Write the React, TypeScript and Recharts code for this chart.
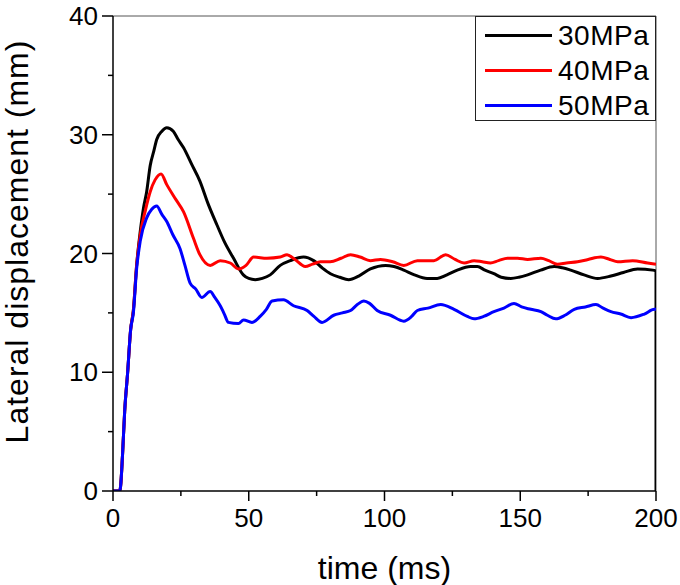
import React from 'react';
import { LineChart, Line, XAxis, YAxis, ReferenceLine } from 'recharts';

// time (ms) / lateral displacement (mm)
const t30 = [0, 2.5, 2.8, 3.5, 4.3, 5.4, 6.5, 7.5, 8.7, 10, 11.2, 12.4, 13.7, 15, 16.1, 18, 19.8, 22.2, 24, 26, 29, 32, 35, 38.3, 41, 44.4, 48, 50, 52.4, 55, 57.9, 61.6, 65.3, 70.2, 73.9, 77, 80.1, 83.5, 86.8, 90.5, 94.8, 100.4, 103.5, 107.1, 111, 115.7, 119.4, 123, 126.8, 131.7, 134.2, 137, 140.3, 143, 146.5, 149.5, 152.7, 157.5, 162.5, 165.5, 168.6, 173.5, 178.5, 183.4, 188, 193.2, 198.8, 200, 200];
const d30 = [0, 0, 0.4, 3, 6.7, 10, 13.6, 15.2, 19, 21.8, 23.8, 25.2, 27.4, 28.6, 29.6, 30.3, 30.6, 30.3, 29.6, 28.9, 27.5, 26.1, 24.2, 22.4, 21, 19.6, 18.2, 17.9, 17.8, 17.9, 18.2, 19.0, 19.4, 19.7, 19.4, 18.8, 18.3, 18.0, 17.8, 18.1, 18.7, 19.0, 18.9, 18.6, 18.2, 17.9, 17.9, 18.2, 18.6, 18.9, 18.9, 18.6, 18.3, 18.0, 17.9, 18.0, 18.2, 18.6, 18.9, 18.8, 18.6, 18.2, 17.9, 18.1, 18.4, 18.7, 18.6, 18.5, 0];

const t40 = [0, 2.5, 2.8, 3.5, 4.3, 5.4, 6.5, 7.5, 8.7, 10, 12, 13.7, 15.5, 17.7, 19.8, 23, 26, 29.6, 32, 35.8, 39.5, 43.2, 46.2, 49, 51.8, 56.7, 61.6, 64.1, 67, 70.8, 73.5, 76.4, 80, 84, 87.5, 91, 94.8, 98.5, 103, 107.1, 112.1, 118.2, 122.5, 126, 129.3, 133, 136, 139, 142, 145.3, 149, 152.7, 157.6, 160.5, 163.7, 167, 171.1, 175, 179.7, 183, 185.9, 191.4, 196.9, 200];
const d40 = [0, 0, 0.4, 3, 6.7, 10, 13.6, 15.2, 19, 21.5, 23.7, 25.2, 26.2, 26.7, 25.8, 24.6, 23.5, 21.3, 19.9, 19.0, 19.4, 19.2, 18.7, 19.0, 19.7, 19.6, 19.7, 19.9, 19.5, 18.9, 19.1, 19.3, 19.3, 19.6, 19.9, 19.7, 19.4, 19.5, 19.3, 19.0, 19.4, 19.4, 19.9, 19.5, 19.2, 19.4, 19.3, 19.2, 19.4, 19.6, 19.6, 19.5, 19.6, 19.4, 19.1, 19.2, 19.3, 19.5, 19.7, 19.5, 19.3, 19.4, 19.2, 19.1];

const t50 = [0, 2.5, 2.8, 3.5, 4.3, 5.4, 6.5, 7.5, 8.7, 10, 12.4, 14.2, 16.1, 18, 19.8, 22, 24.7, 26.5, 28.4, 30.5, 32.7, 35.8, 37.5, 39.5, 41, 42.5, 46.2, 48.1, 51.2, 54.2, 56.5, 58.6, 62.8, 66.5, 71.5, 74, 77, 81.3, 84.5, 87.5, 90, 92.4, 94.5, 97.3, 102.2, 107.1, 110, 112.1, 116, 120.7, 125.6, 130.5, 133, 136.5, 140.3, 144, 147.7, 150.5, 153.9, 157.6, 160, 163.1, 166.5, 169.9, 174, 177.9, 180.5, 183.4, 187, 190.8, 195.7, 199.4, 200];
const d50 = [0, 0, 0.4, 3, 6.7, 10, 13.6, 15.0, 18.7, 21.0, 23.0, 23.7, 24.0, 23.3, 22.7, 21.6, 20.4, 19.0, 17.5, 17.0, 16.3, 16.8, 16.3, 15.6, 14.9, 14.2, 14.1, 14.4, 14.2, 14.7, 15.3, 16.0, 16.1, 15.6, 15.2, 14.7, 14.2, 14.8, 15.0, 15.2, 15.7, 16.0, 15.8, 15.2, 14.8, 14.3, 14.7, 15.2, 15.4, 15.7, 15.3, 14.7, 14.5, 14.7, 15.1, 15.4, 15.8, 15.5, 15.3, 15.1, 14.8, 14.5, 14.8, 15.3, 15.5, 15.7, 15.4, 15.1, 14.9, 14.6, 14.9, 15.3, 15.3];

const xTicks = [0, 25, 50, 75, 100, 125, 150, 175, 200];
const yTicks = [0, 5, 10, 15, 20, 25, 30, 35, 40];

const series = [
  { name: '30MPa', color: '#000000', data: t30.map((t, i) => ({ t, v: d30[i] })) },
  { name: '40MPa', color: '#ff0000', data: t40.map((t, i) => ({ t, v: d40[i] })) },
  { name: '50MPa', color: '#0000ff', data: t50.map((t, i) => ({ t, v: d50[i] })) },
];

const FONT = '"Liberation Sans", Arial, sans-serif';

const XTick = ({ x, y, payload }: any) => {
  const major = payload.value % 50 === 0;
  return (
    <g>
      <line x1={x} y1={y} x2={x} y2={y + (major ? 10 : 5)} stroke="#000" strokeWidth={1.5} />
      {major && (
        <text x={x} y={y + 36} textAnchor="middle" fontSize={26} fontFamily={FONT} fill="#000">
          {payload.value}
        </text>
      )}
    </g>
  );
};

const YTick = ({ x, y, payload }: any) => {
  const major = payload.value % 10 === 0;
  return (
    <g>
      <line x1={x} y1={y} x2={x - (major ? 11 : 5)} y2={y} stroke="#000" strokeWidth={1.5} />
      {major && (
        <text x={x - 15} y={y + 9} textAnchor="end" fontSize={26} fontFamily={FONT} fill="#000">
          {payload.value}
        </text>
      )}
    </g>
  );
};

const YTitle = ({ viewBox }: any) => {
  const cy = viewBox.y + viewBox.height / 2 - 12;
  return (
    <text x={28} y={cy} transform={`rotate(-90 28 ${cy})`} textAnchor="middle"
      fontSize={32} letterSpacing={1} fontFamily={FONT} fill="#000">
      Lateral displacement (mm)
    </text>
  );
};

const XTitle = ({ viewBox }: any) => (
  <text x={viewBox.x + viewBox.width / 2} y={579} textAnchor="middle" fontSize={32} fontFamily={FONT} fill="#000">
    time (ms)
  </text>
);

export default function App() {
  return (
    <div style={{ position: 'absolute', left: 0, top: 0, width: 680, height: 585, background: '#fff' }}>
      <LineChart width={680} height={585} margin={{ top: 16, right: 24, left: 0, bottom: 0 }}>
        <XAxis dataKey="t" type="number" domain={[0, 200]} ticks={xTicks} interval={0} height={94}
          axisLine={{ stroke: '#000', strokeWidth: 1.5 }} tickLine={false} tickSize={0} tickMargin={0}
          tick={<XTick />} label={<XTitle />} allowDataOverflow />
        <YAxis type="number" domain={[0, 40]} ticks={yTicks} interval={0} width={113}
          axisLine={{ stroke: '#000', strokeWidth: 1.5 }} tickLine={false} tickSize={0} tickMargin={0}
          tick={<YTick />} label={<YTitle />} allowDataOverflow />
        <ReferenceLine y={40} stroke="#555" strokeWidth={1} />
        <ReferenceLine x={200} stroke="#555" strokeWidth={1} />
        {series.map((s) => (
          <Line key={s.name} data={s.data} dataKey="v" name={s.name} type="monotone" stroke={s.color}
            strokeWidth={3} dot={false} isAnimationActive={false} />
        ))}
      </LineChart>
      <div style={{
        position: 'absolute', left: 475, top: 16, width: 181, height: 105, boxSizing: 'border-box',
        border: '1.5px solid #222', background: '#fff', paddingTop: 1,
      }}>
        {series.map((s) => (
          <div key={s.name} style={{ display: 'flex', alignItems: 'center', height: 35 }}>
            <span style={{ display: 'inline-block', marginLeft: 9, width: 67, height: 3, background: s.color }} />
            <span style={{ marginLeft: 6, fontFamily: FONT, fontSize: 28, letterSpacing: 0.5, lineHeight: '35px', color: '#000' }}>{s.name}</span>
          </div>
        ))}
      </div>
    </div>
  );
}
